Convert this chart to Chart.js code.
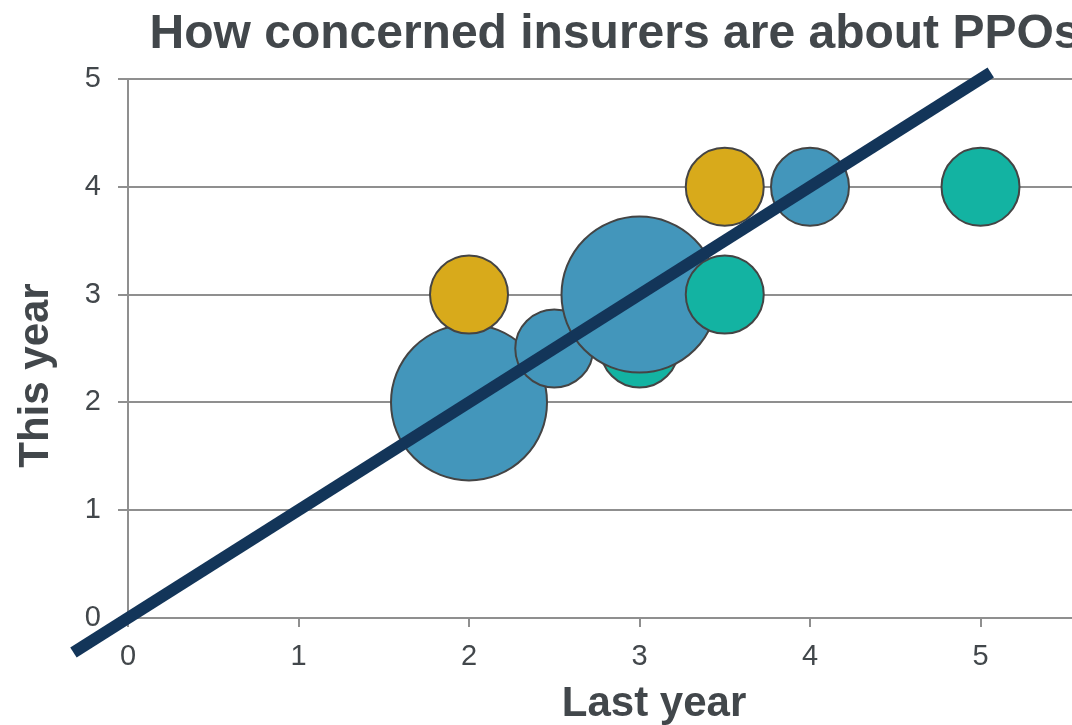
<!DOCTYPE html>
<html>
<head>
<meta charset="utf-8">
<title>How concerned insurers are about PPOs</title>
<script src="https://cdn.jsdelivr.net/npm/chart.js@4/dist/chart.umd.min.js"></script>
<style>
  html, body { margin: 0; padding: 0; background: #fff; overflow: hidden; }
  #wrap { position: relative; width: 1230px; height: 725px; }
</style>
</head>
<body>
<div id="wrap"><canvas id="ppoChart"></canvas></div>
<script>
// bubbles, listed in the order they are painted (later ones sit on top)
const lastYear  = [3,   2, 2, 2.5, 3, 3.5, 3.5, 4, 5];
const thisYear  = [2.5, 2, 3, 2.5, 3, 3,   4,   4, 4];
const bubbleSize = [1,  4, 1, 1,   4, 1,   1,   1, 1];
const group     = ["teal", "blue", "gold", "blue", "blue", "teal", "gold", "blue", "teal"];

// y = x reference line
const diagX = [-0.32, 5.06];
const diagY = [-0.32, 5.06];

const xTicks = [0, 1, 2, 3, 4, 5, 6];
const yTicks = [0, 1, 2, 3, 4, 5];

const palette = { blue: "#4396bb", gold: "#d8aa1b", teal: "#13b3a2" };
const textGrey = "#42474b";
const axisGrey = "#8f8f8f";
const fontFamily = "Liberation Sans, Arial, sans-serif";
const unitRadius = 39;

// y axis title, centred over the axis plus its tick-label band
const yTitlePlugin = {
  id: "yTitle",
  afterDraw(chart) {
    const c = chart.ctx;
    const area = chart.chartArea;
    const xScale = chart.scales.x;
    const midY = (area.top + xScale.top + 54) / 2;
    c.save();
    c.translate(36, midY);
    c.rotate(-Math.PI / 2);
    c.font = "bold 42px " + fontFamily;
    c.fillStyle = textGrey;
    c.textAlign = "center";
    c.textBaseline = "middle";
    c.fillText("This year", 0, 0);
    c.restore();
  }
};

(function(){
  const ctx = document.getElementById("ppoChart");

  const bubbles = lastYear.map((x, i) => ({
    x: x,
    y: thisYear[i],
    r: unitRadius * Math.sqrt(bubbleSize[i])
  }));
  const diagonal = diagX.map((x, i) => ({ x: x, y: diagY[i] }));

  new Chart(ctx, {
    type: "bubble",
    data: {
      datasets: [
        {
          type: "line",
          label: "Same as last year",
          data: diagonal,
          borderColor: "#133559",
          borderWidth: 12,
          borderCapStyle: "butt",
          pointRadius: 0,
          fill: false,
          clip: false,
          order: 0
        },
        {
          label: "Concern",
          data: bubbles,
          backgroundColor: group.map(g => palette[g]),
          borderColor: "#444",
          borderWidth: 2,
          clip: false,
          order: 1
        }
      ]
    },
    plugins: [yTitlePlugin],
    options: {
      responsive: true,
      maintainAspectRatio: false,
      animation: false,
      layout: { autoPadding: false, padding: { left: 50, right: 50, top: 0, bottom: 0 } },
      plugins: {
        legend: { display: false },
        tooltip: { enabled: false },
        title: {
          display: true,
          text: "How concerned insurers are about PPOs",
          color: textGrey,
          font: { family: fontFamily, size: 48, weight: "bold" },
          padding: { top: 6, bottom: 15.4 }
        }
      },
      scales: {
        x: {
          type: "linear",
          min: 0,
          max: 6.17,
          afterBuildTicks: axis => { axis.ticks = xTicks.map(v => ({ value: v })); },
          afterFit: axis => { axis.height = 107; },
          ticks: {
            color: textGrey,
            padding: 13,
            font: { family: fontFamily, size: 29 }
          },
          grid: { drawOnChartArea: false, drawTicks: true, tickLength: 9, color: axisGrey, lineWidth: 2 },
          border: { display: true, color: axisGrey, width: 2 },
          title: {
            display: true,
            text: "Last year",
            color: textGrey,
            font: { family: fontFamily, size: 42, weight: "bold" },
            padding: { top: 0, bottom: -5 }
          }
        },
        y: {
          type: "linear",
          min: 0,
          max: 5,
          afterBuildTicks: axis => { axis.ticks = yTicks.map(v => ({ value: v })); },
          afterFit: axis => { axis.width = 78; },
          ticks: {
            color: textGrey,
            padding: 17,
            font: { family: fontFamily, size: 29 }
          },
          grid: { color: axisGrey, lineWidth: 2, tickLength: 10 },
          border: { display: true, color: axisGrey, width: 2 }
        }
      }
    }
  });
})();
</script>
</body>
</html>
